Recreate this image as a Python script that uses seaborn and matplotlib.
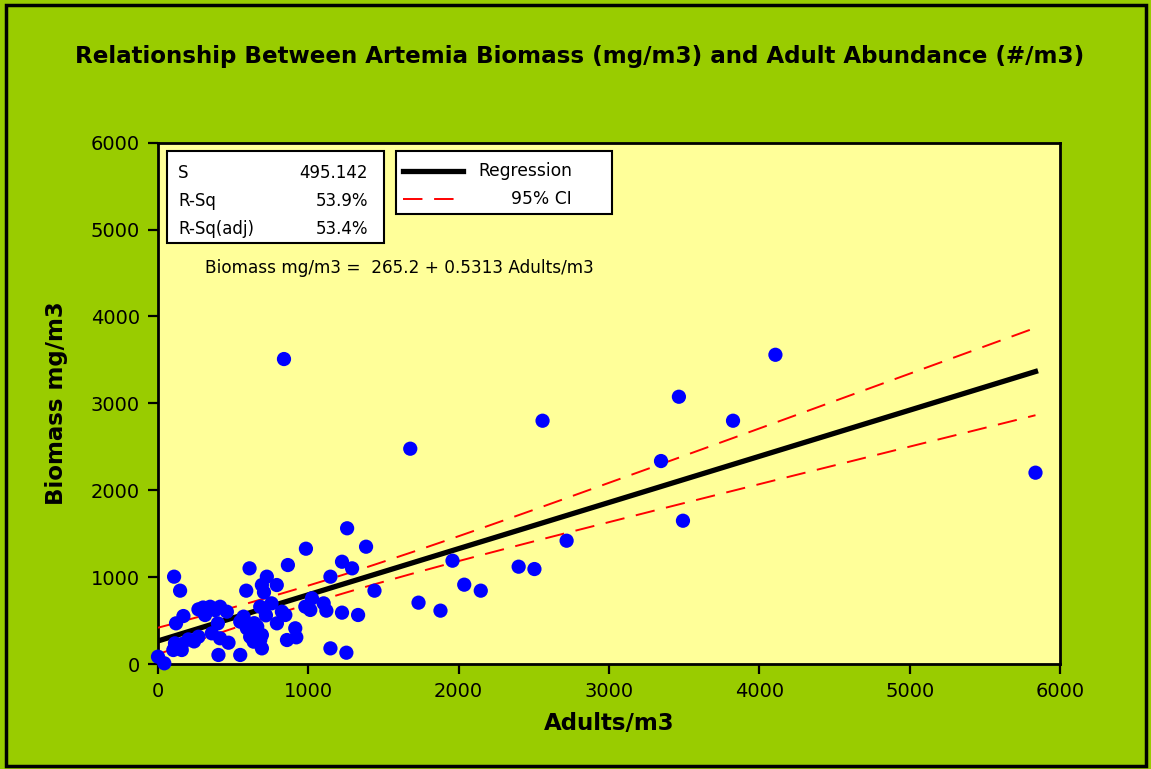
import matplotlib
matplotlib.use("Agg")
import matplotlib.pyplot as plt
import numpy as np
import pandas as pd
import seaborn as sns
from matplotlib.patches import Rectangle
from matplotlib.lines import Line2D

adults = [
    0, 42, 102, 158, 113, 202, 269, 358, 413, 469, 402, 547,
    107, 147, 120, 169, 269, 313, 347, 413, 458, 398, 300, 380,
    160, 240, 569, 547, 591, 658, 613, 636, 680, 691, 609, 587,
    724, 691, 790, 705, 680, 755, 718, 791, 824, 847, 864, 913,
    858, 920, 691, 640, 660, 980, 1013, 1024, 1102, 1120, 1147, 1224,
    1291, 1224, 1331, 1440, 1147, 1253, 984, 1384, 1258, 838,
    1678, 2558, 3465, 3825, 3346, 4107, 5837, 3492, 2718, 1959,
    2399, 2504, 2037, 2147, 1733, 1879,
]
biomass = [
    84, 8, 161, 161, 238, 283, 314, 353, 296, 245, 104, 104,
    1005, 844, 468, 552, 629, 564, 659, 659, 602, 468, 650, 620,
    230, 260, 545, 487, 411, 372, 314, 257, 276, 180, 1101, 844,
    1005, 909, 909, 825, 659, 698, 560, 468, 602, 564, 1139, 411,
    276, 307, 334, 470, 430, 660, 622, 756, 698, 614, 1005, 1177,
    1101, 591, 564, 844, 180, 130, 1327, 1350, 1562, 3510,
    2478, 2800, 3076, 2800, 2336, 3559, 2202, 1649, 1419, 1189,
    1120, 1093, 913, 844, 706, 614,
]

INTERCEPT = 265.2
SLOPE = 0.5313
S_VALUE = 495.142
T_CRIT = 1.986
stats_labels = ["S", "R-Sq", "R-Sq(adj)"]
stats_values = ["495.142", "53.9%", "53.4%"]
legend_labels = ["Regression", "95% CI"]

W, H = 1151, 769
GREEN = "#99CC00"
YELLOW = "#FFFF99"


def fx(px):
    return px / W


def fy(py):
    return 1 - py / H


df = pd.DataFrame({"adults": adults, "biomass": biomass})

# fitted line and 95% CI for the mean, evaluated at the observed x values
xs = np.sort(df["adults"].unique())
fit = INTERCEPT + SLOPE * xs
xbar = df["adults"].mean()
sxx = ((df["adults"] - xbar) ** 2).sum()
half = T_CRIT * S_VALUE * np.sqrt(1 / len(df) + (xs - xbar) ** 2 / sxx)
lines = pd.DataFrame({"x": xs, "fit": fit, "lo": fit - half, "hi": fit + half})

plt.rcParams["font.family"] = ["DejaVu Sans"]
fig = plt.figure(figsize=(W / 100, H / 100), dpi=100, facecolor=GREEN)
ax = fig.add_axes([fx(158), fy(664), fx(1060) - fx(158), fy(142.7) - fy(664)])
ax.set_facecolor(YELLOW)

sns.lineplot(data=lines, x="x", y="fit", ax=ax, color="black", lw=3.8,
             zorder=3)
for col in ["lo", "hi"]:
    sns.lineplot(data=lines, x="x", y=col, ax=ax, color="red", lw=1.4,
                 dashes=False, zorder=3).lines[-1].set_dashes((10, 6))
sns.scatterplot(data=df, x="adults", y="biomass", ax=ax, color="#0000FF",
                s=105, edgecolor="none", zorder=4, clip_on=False)

ax.set_xlim(0, 6000)
ax.set_ylim(0, 6000)
ax.set_xticks(range(0, 6001, 1000))
ax.set_yticks(range(0, 6001, 1000))
ax.tick_params(direction="out", length=7, width=1.6, labelsize=14,
               colors="black", pad=6)
for sp in ax.spines.values():
    sp.set_color("black")
    sp.set_linewidth(2)
ax.set_xlabel("Adults/m3", fontsize=16.5, fontweight="bold", labelpad=8)
ax.set_ylabel("Biomass mg/m3", fontsize=16.5, fontweight="bold", labelpad=16)

fig.text(fx(580), fy(57), "Relationship Between Artemia Biomass (mg/m3) and "
         "Adult Abundance (#/m3)", ha="center", va="center", fontsize=16.6,
         fontweight="bold")

# stats table box
fig.patches.append(Rectangle((fx(167), fy(242.7)), fx(384) - fx(167),
                             fy(151) - fy(242.7), transform=fig.transFigure,
                             facecolor="white", edgecolor="black", lw=1.5,
                             zorder=5))
for i, (lab, val) in enumerate(zip(stats_labels, stats_values)):
    yy = fy(173 + i * 28)
    fig.text(fx(178), yy, lab, ha="left", va="center", fontsize=12,
             zorder=6)
    fig.text(fx(368), yy, val, ha="right", va="center", fontsize=12,
             zorder=6)

# legend box
fig.patches.append(Rectangle((fx(396), fy(214)), fx(612) - fx(396),
                             fy(151) - fy(214), transform=fig.transFigure,
                             facecolor="white", edgecolor="black", lw=1.5,
                             zorder=5))
fig.lines.append(Line2D([fx(403), fx(463)], [fy(171), fy(171)],
                        transform=fig.transFigure, color="black", lw=3.8,
                        zorder=6))
fig.lines.append(Line2D([fx(403), fx(458)], [fy(199), fy(199)],
                        transform=fig.transFigure, color="red", lw=1.4,
                        dashes=(10, 6), zorder=6))
fig.text(fx(478), fy(171), legend_labels[0], ha="left", va="center",
         fontsize=12.3, zorder=6)
fig.text(fx(572), fy(199), legend_labels[1], ha="right", va="center",
         fontsize=12.3, zorder=6)

fig.text(fx(205), fy(268), f"Biomass mg/m3 =  {INTERCEPT} + {SLOPE} Adults/m3",
         ha="left", va="center", fontsize=12.2)

# outer frame
fig.patches.append(Rectangle((fx(6), fy(766)), fx(1146) - fx(6),
                             fy(5) - fy(766), transform=fig.transFigure,
                             facecolor="none", edgecolor="black", lw=2.5,
                             zorder=10))

fig.savefig("out.png", dpi=100, facecolor=GREEN)
